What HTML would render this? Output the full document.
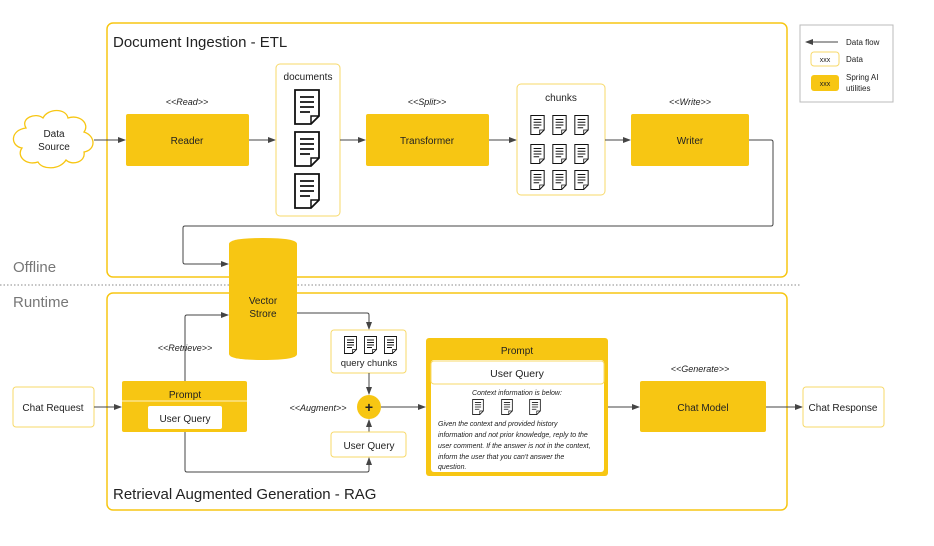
<!DOCTYPE html>
<html><head><meta charset="utf-8"><style>
html,body{margin:0;padding:0;background:#fff;}
svg text{font-family:"Liberation Sans",sans-serif;fill:#222;}
</style></head><body>
<svg width="934" height="541" viewBox="0 0 934 541" xmlns="http://www.w3.org/2000/svg">
<defs>
<marker id="a" markerWidth="8" markerHeight="6" refX="7" refY="3" orient="auto-start-reverse" markerUnits="userSpaceOnUse"><path d="M0,0 L8,3 L0,6 z" fill="#444"/></marker>
<symbol id="doc" viewBox="0 0 26 36"><path d="M1,1 H25 V27 L17,35 H1 Z" fill="#fff" stroke="#111" stroke-width="1.8"/><path d="M17,35 V27 H25" fill="none" stroke="#111" stroke-width="1.5"/><path d="M6,8H20M6,13H20M6,18H20M6,23H16" stroke="#111" stroke-width="1.8"/></symbol>
</defs>
<rect x="107" y="23" width="680" height="254" rx="6" fill="none" stroke="#f7c613" stroke-width="1.5"/>
<text x="113" y="47" font-size="15">Document Ingestion - ETL</text>
<rect x="107" y="293" width="680" height="217" rx="6" fill="none" stroke="#f7c613" stroke-width="1.5"/>
<text x="113" y="499" font-size="15">Retrieval Augmented Generation - RAG</text>
<text x="13" y="272" font-size="15" style="fill:#777">Offline</text>
<line x1="0" y1="285" x2="800" y2="285" stroke="#888" stroke-dasharray="1.5,2"/>
<text x="13" y="307" font-size="15" style="fill:#777">Runtime</text>
<!-- legend -->
<rect x="800" y="25" width="93" height="77" fill="#fff" stroke="#bbb"/>
<line x1="806" y1="42" x2="838" y2="42" stroke="#444" marker-start="url(#a)"/>
<text x="846" y="45" font-size="8">Data flow</text>
<rect x="811" y="52" width="28" height="14" rx="3" fill="#fff" stroke="#f7d96a"/>
<text x="825" y="62" font-size="7" text-anchor="middle">xxx</text>
<text x="846" y="62" font-size="8">Data</text>
<rect x="811" y="75" width="28" height="16" rx="3" fill="#f7c613"/>
<text x="825" y="86" font-size="7" text-anchor="middle">xxx</text>
<text x="846" y="80" font-size="8">Spring AI</text>
<text x="846" y="91" font-size="8">utilities</text>
<!-- cloud -->
<path d="M26,128 C20,118 36,112 43,118 C48,108 66,108 68,118 C80,114 90,124 84,132 C96,136 96,150 84,152 C86,162 72,166 66,160 C60,170 42,170 38,162 C26,166 16,156 22,148 C10,146 10,130 26,128 Z" fill="#fff" stroke="#f7c613" stroke-width="1.3"/>
<text x="54" y="137" font-size="10" text-anchor="middle">Data</text>
<text x="54" y="150" font-size="10" text-anchor="middle">Source</text>
<line x1="94" y1="140" x2="125" y2="140" stroke="#444" marker-end="url(#a)"/>
<!-- reader -->
<text x="187" y="105" font-size="9" font-style="italic" text-anchor="middle">&lt;&lt;Read&gt;&gt;</text>
<rect x="126" y="114" width="123" height="52" rx="2" fill="#f7c613"/>
<text x="187" y="144" font-size="10" text-anchor="middle">Reader</text>
<line x1="249" y1="140" x2="275" y2="140" stroke="#444" marker-end="url(#a)"/>
<rect x="276" y="64" width="64" height="152" rx="4" fill="#fff" stroke="#f7d96a"/>
<text x="308" y="80" font-size="10" text-anchor="middle">documents</text>
<use href="#doc" x="294" y="89" width="26" height="36"/>
<use href="#doc" x="294" y="131" width="26" height="36"/>
<use href="#doc" x="294" y="173" width="26" height="36"/>
<line x1="340" y1="140" x2="365" y2="140" stroke="#444" marker-end="url(#a)"/>
<text x="427" y="105" font-size="9" font-style="italic" text-anchor="middle">&lt;&lt;Split&gt;&gt;</text>
<rect x="366" y="114" width="123" height="52" rx="2" fill="#f7c613"/>
<text x="427" y="144" font-size="10" text-anchor="middle">Transformer</text>
<line x1="489" y1="140" x2="516" y2="140" stroke="#444" marker-end="url(#a)"/>
<rect x="517" y="84" width="88" height="111" rx="4" fill="#fff" stroke="#f7d96a"/>
<text x="561" y="101" font-size="10" text-anchor="middle">chunks</text>
<g>
<use href="#doc" x="530" y="115" width="15" height="20"/><use href="#doc" x="552" y="115" width="15" height="20"/><use href="#doc" x="574" y="115" width="15" height="20"/>
<use href="#doc" x="530" y="144" width="15" height="20"/><use href="#doc" x="552" y="144" width="15" height="20"/><use href="#doc" x="574" y="144" width="15" height="20"/>
<use href="#doc" x="530" y="170" width="15" height="20"/><use href="#doc" x="552" y="170" width="15" height="20"/><use href="#doc" x="574" y="170" width="15" height="20"/>
</g>
<line x1="605" y1="140" x2="630" y2="140" stroke="#444" marker-end="url(#a)"/>
<text x="690" y="105" font-size="9" font-style="italic" text-anchor="middle">&lt;&lt;Write&gt;&gt;</text>
<rect x="631" y="114" width="118" height="52" rx="2" fill="#f7c613"/>
<text x="690" y="144" font-size="10" text-anchor="middle">Writer</text>
<path d="M749,140 H771 Q773,140 773,142 V224 Q773,226 771,226 H185 Q183,226 183,228 V262 Q183,264 185,264 H228" fill="none" stroke="#444" marker-end="url(#a)"/>
<!-- vector store -->
<path d="M229,244 Q229,238 263,238 Q297,238 297,244 V354 Q297,360 263,360 Q229,360 229,354 Z" fill="#f7c613"/>
<text x="263" y="304" font-size="10" text-anchor="middle">Vector</text>
<text x="263" y="317" font-size="10" text-anchor="middle">Strore</text>
<path d="M297,313 H367 Q369,313 369,315 V329" fill="none" stroke="#444" marker-end="url(#a)"/>
<rect x="331" y="330" width="75" height="43" rx="3" fill="#fff" stroke="#f7d96a"/>
<use href="#doc" x="344" y="336" width="13" height="18"/><use href="#doc" x="364" y="336" width="13" height="18"/><use href="#doc" x="384" y="336" width="13" height="18"/>
<text x="369" y="366" font-size="9.5" text-anchor="middle">query chunks</text>
<line x1="369" y1="373" x2="369" y2="394" stroke="#444" marker-end="url(#a)"/>
<circle cx="369" cy="407" r="12" fill="#f7c613"/>
<text x="369" y="412" font-size="14" text-anchor="middle" font-weight="bold">+</text>
<text x="318" y="411" font-size="9" font-style="italic" text-anchor="middle">&lt;&lt;Augment&gt;&gt;</text>
<line x1="369" y1="432" x2="369" y2="420" stroke="#444" marker-end="url(#a)"/>
<rect x="331" y="432" width="75" height="25" rx="3" fill="#fff" stroke="#f7d96a"/>
<text x="369" y="449" font-size="10" text-anchor="middle">User Query</text>
<!-- left prompt -->
<rect x="13" y="387" width="81" height="40" rx="3" fill="#fff" stroke="#f7d96a"/>
<text x="53" y="411" font-size="10" text-anchor="middle">Chat Request</text>
<line x1="94" y1="407" x2="121" y2="407" stroke="#444" marker-end="url(#a)"/>
<rect x="122" y="381" width="125" height="51" rx="2" fill="#f7c613"/>
<text x="185" y="398" font-size="10" text-anchor="middle">Prompt</text>
<line x1="122" y1="401" x2="247" y2="401" stroke="#fff" stroke-width="0.8"/>
<rect x="148" y="406" width="74" height="23" rx="2" fill="#fff"/>
<text x="185" y="422" font-size="10" text-anchor="middle">User Query</text>
<path d="M185,381 V317 Q185,315 187,315 H228" fill="none" stroke="#444" marker-end="url(#a)"/>
<text x="185" y="351" font-size="9" font-style="italic" text-anchor="middle">&lt;&lt;Retrieve&gt;&gt;</text>
<path d="M185,432 V470 Q185,472 187,472 H367 Q369,472 369,470 V458" fill="none" stroke="#444" marker-end="url(#a)"/>
<line x1="381" y1="407" x2="425" y2="407" stroke="#444" marker-end="url(#a)"/>
<!-- big prompt -->
<rect x="426" y="338" width="182" height="138" rx="3" fill="#f7c613"/>
<text x="517" y="354" font-size="10" text-anchor="middle">Prompt</text>
<rect x="431" y="360" width="173" height="112" rx="3" fill="#fff"/>
<rect x="431" y="361" width="173" height="23" rx="3" fill="#fff" stroke="#f7d96a"/>
<text x="517" y="377" font-size="10.5" text-anchor="middle">User Query</text>
<text x="517" y="395" font-size="7" font-style="italic" text-anchor="middle">Context information is below:</text>
<use href="#doc" x="472" y="399" width="12" height="16"/><use href="#doc" x="501" y="399" width="12" height="16"/><use href="#doc" x="529" y="399" width="12" height="16"/>
<g font-size="7" font-style="italic">
<text x="438" y="426">Given the context and provided history</text>
<text x="438" y="437">information and not prior knowledge, reply to the</text>
<text x="438" y="448">user comment. If the answer is not in the context,</text>
<text x="438" y="459">inform the user that you can't answer the</text>
<text x="438" y="469">question.</text>
</g>
<line x1="608" y1="407" x2="639" y2="407" stroke="#444" marker-end="url(#a)"/>
<text x="700" y="372" font-size="9" font-style="italic" text-anchor="middle">&lt;&lt;Generate&gt;&gt;</text>
<rect x="640" y="381" width="126" height="51" rx="2" fill="#f7c613"/>
<text x="703" y="411" font-size="10" text-anchor="middle">Chat Model</text>
<line x1="766" y1="407" x2="802" y2="407" stroke="#444" marker-end="url(#a)"/>
<rect x="803" y="387" width="81" height="40" rx="3" fill="#fff" stroke="#f7d96a"/>
<text x="843" y="411" font-size="10" text-anchor="middle">Chat Response</text>
</svg>
</body></html>
